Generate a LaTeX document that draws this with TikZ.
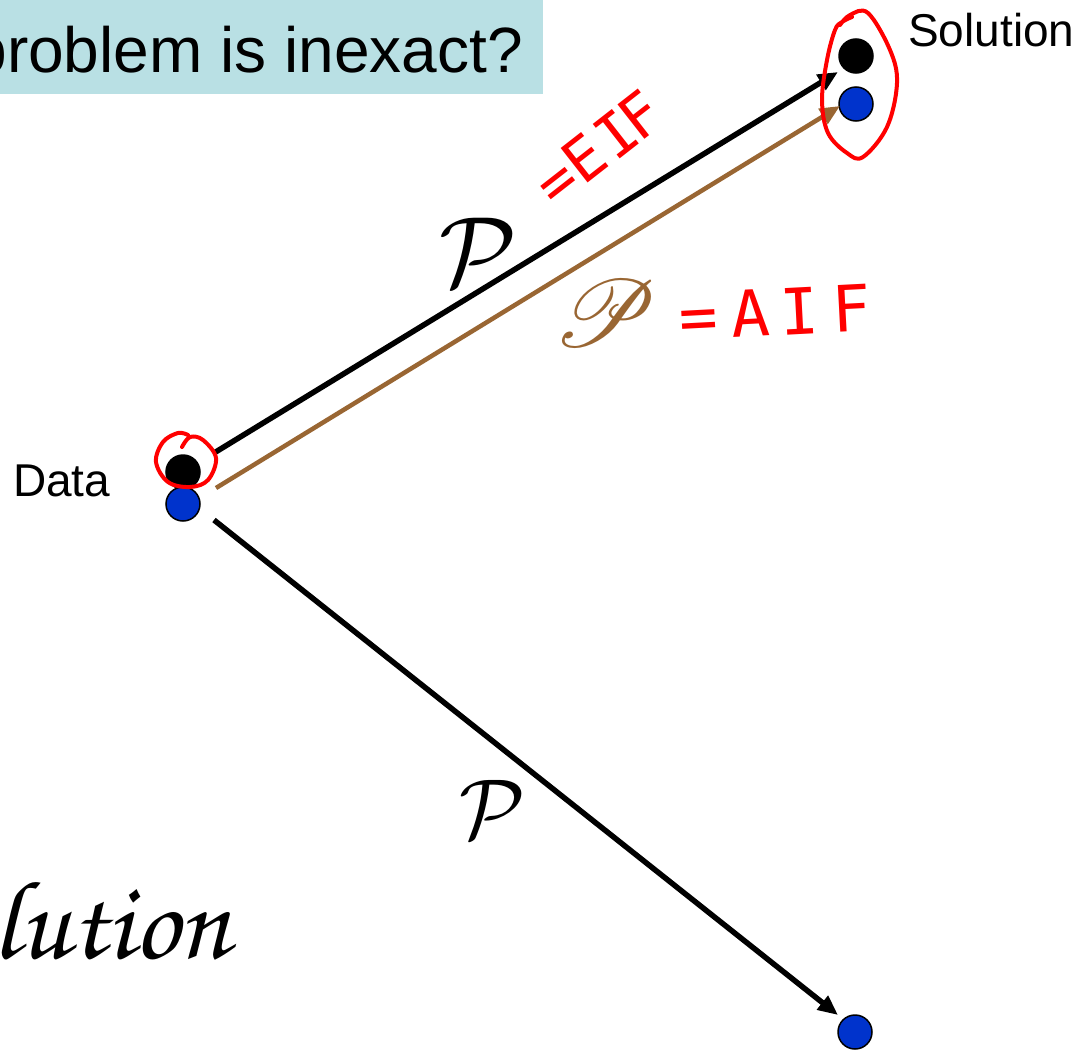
\documentclass[tikz,border=0pt]{standalone}
\usepackage{fontspec}
\setmainfont{Liberation Sans}
\newfontfamily\handfont{DejaVu Sans Mono}
\usepackage{mathrsfs}
\usetikzlibrary{arrows.meta}
\definecolor{boxblue}{HTML}{B9E0E4}
\definecolor{dotblue}{HTML}{0033CC}
\definecolor{brownarr}{HTML}{996633}
\begin{document}
\begin{tikzpicture}[x=1pt,y=-1pt,
  dot/.style={circle, draw=black, line width=1.5pt, minimum size=34pt, inner sep=0pt},
  blackdot/.style={dot, fill=black},
  bluedot/.style={dot, fill=dotblue},
  arr/.style={line width=5.5pt, -{Triangle[length=20pt,width=17pt]}},
  sans/.style={inner sep=0pt, anchor=base west},
  redink/.style={red, line width=4pt, line cap=round, line join=round},
  redtext/.style={red, inner sep=0pt, font=\handfont}]
\useasboundingbox (0,0) rectangle (1083,1049);
\clip (0,0) rectangle (1083,1049);
% title box
\fill[boxblue] (0,0) rectangle (543,94);
\node[inner sep=0pt, anchor=base east, font=\fontsize{64}{64}\selectfont] (title) at (523,73) {problem is inexact?};
% labels
\node[sans, font=\fontsize{46}{46}\selectfont] (soltext) at (908,47) {Solution};
\node[sans, font=\fontsize{46}{46}\selectfont] (datatext) at (13,496) {Data};
\node[inner sep=0pt, anchor=base east] (lution) at (230,958) {\fontsize{112}{112}\usefont{T1}{pzc}{mb}{it}lution};
% dots
\node[blackdot] (d1) at (183,472) {};
\node[bluedot]  (d2) at (183,504) {};
\node[blackdot] (s1) at (856,56) {};
\node[bluedot]  (s2) at (856,104) {};
\node[bluedot]  (b1) at (855,1032) {};
% arrow end points
\coordinate (a1s) at (214,453);
\coordinate (a1e) at (838,72);
\coordinate (a2s) at (216,488);
\coordinate (a2e) at (840,106);
\coordinate (a3s) at (214,520);
\coordinate (a3e) at (838,1015);
\draw[arr] (a1s) -- (a1e);
\draw[arr, brownarr, line width=4.5pt] (a2s) -- (a2e);
\draw[arr] (a3s) -- (a3e);
% script P labels
\node[inner sep=0pt] (p1) at (478,252) {\scalebox{10}{$\mathcal{P}$}};
\node[inner sep=0pt, text=brownarr] (p2) at (605,313) {\scalebox{9.5}{$\mathscr{P}$}};
\node[inner sep=0pt] (p3) at (493,809) {\scalebox{8.5}{$\mathcal{P}$}};
% red annotations
\node[redtext, font=\handfont\fontsize{60}{60}\selectfont, rotate=38] (eif) at (598,148) {=E\hspace{4pt}I\hspace{-6pt}F};
\node[redtext, font=\handfont\fontsize{64}{64}\selectfont, rotate=3] (aif) at (775,312) {=\hspace{14pt}A\hspace{10pt}I\hspace{14pt}F};
\draw[redink] plot[smooth, tension=0.6] coordinates {(182,447) (190,437) (203,440) (216,458) (208,480) (190,487) (168,482) (156,462) (163,442) (178,433) (188,435)};
\draw[redink] plot[smooth, tension=0.6] coordinates {(840,25) (850,15) (868,13) (890,50) (897,83) (887,127) (863,157) (847,153) (828,133) (822,100) (827,60) (835,30) (842,22) (852,17)};
\end{tikzpicture}
\end{document}
